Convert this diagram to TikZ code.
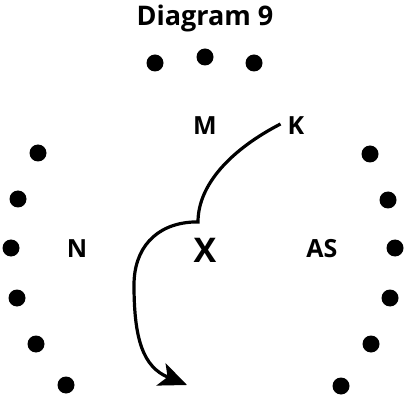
\documentclass[tikz,border=0pt]{standalone}
\usepackage{fontspec}
\setmainfont{Open Sans}
\usetikzlibrary{arrows.meta}

\tikzset{
  dot/.style={circle,fill=black,inner sep=0pt,minimum size=17pt},
  lbl/.style={font=\bfseries\fontsize{25}{29}\selectfont,inner sep=2pt},
  link/.style={line width=3.2pt,-{Stealth[length=28pt,width=24pt,inset=7pt]}}
}

\begin{document}
\begin{tikzpicture}[x=1pt,y=1pt]
  \path[use as bounding box] (0,0) rectangle (409,399);

  \node[font=\bfseries\fontsize{27}{32}\selectfont] (title) at (205,381) {Diagram 9};

  % Ring of dots.
  \foreach \xx/\yy [count=\i] in {155/336,205/342,254/336,
      38/246,18/200,11/151,17/101,36/55,66/14,
      370/245,388/199,395/151,390/101,371/55,341/13}{
    \node[dot] (d\i) at (\xx,\yy) {};
  }

  \node[lbl] (M) at (205,273) {M};
  \node[lbl] (K) at (296,273) {K};
  \node[lbl] (N) at (77,150) {N};
  \node[lbl,font=\bfseries\fontsize{34}{38}\selectfont] (X) at (205,149) {X};
  \node[lbl] (AS) at (322,150) {AS};

  \coordinate (bend) at (198,177);
  \coordinate (tip) at (187,14);

  \draw[link] ([xshift=-5pt,yshift=2pt]K.west) .. controls (232,250) and (198,215) .. (bend)
    -- ++(-5,0) .. controls (155,175) and (134,150) .. (134,114)
    .. controls (134,60) and (143,32) .. (tip);
\end{tikzpicture}
\end{document}
